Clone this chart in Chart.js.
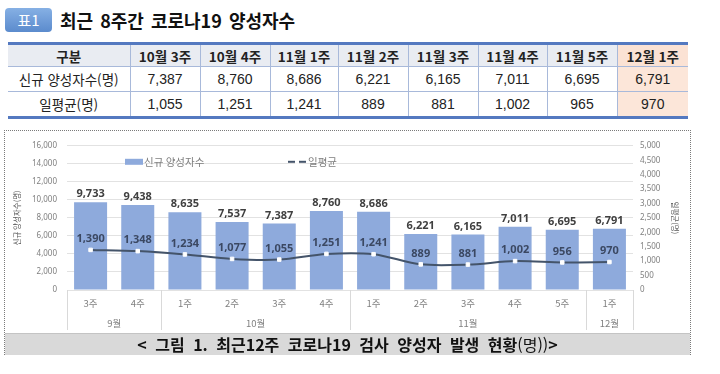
<!DOCTYPE html>
<html lang="ko">
<head>
<meta charset="utf-8">
<script src="https://cdn.jsdelivr.net/npm/chart.js"></script>
<style>
body{margin:0;width:720px;height:374px;background:#fff;position:relative;overflow:hidden;font-family:"Liberation Sans","Noto Sans CJK KR",sans-serif;}
.badge{position:absolute;left:5px;top:8px;width:47px;height:24px;border-radius:4px;background:linear-gradient(#86b0e4,#5b8bcd);color:#fff;font:15px "Noto Sans CJK KR";line-height:24px;text-align:center;}
.title{position:absolute;left:60px;top:6px;font:bold 18px "Noto Sans CJK KR";line-height:28px;color:#111;word-spacing:2px;}
table{position:absolute;left:8px;top:42px;width:680px;border-collapse:collapse;table-layout:fixed;}
td{border:1px solid #a8b9da;text-align:center;font-size:14px;color:#222;padding:0;height:24px;line-height:16px;}
tr:first-child td{border-top:3px solid #5479c0;background:#e9ecf2;font-weight:bold;font-family:"Noto Sans CJK KR";font-size:13.5px;height:21px;}
tr:last-child td{border-bottom:3px solid #5479c0;}
td:first-child{border-left:none;font-family:"Noto Sans CJK KR";font-size:13.5px;}
td:last-child{border-right:none;background:#fce6d9;}
tr:first-child td:last-child{background:#fbe2d4;}
.box{position:absolute;left:4px;top:130px;width:687px;height:225px;box-sizing:border-box;border:1px dotted #7a7a7a;}
.plot{position:absolute;left:0;top:0;width:685px;height:202px;}
.caption{position:absolute;left:0;top:202px;width:685px;height:22px;background:#d9d9d9;border-top:1px solid #c4c4c4;box-sizing:border-box;text-align:center;font:bold 16px "Noto Sans CJK KR";line-height:21px;color:#111;word-spacing:4px;}
.caption span{font-weight:normal;}
</style>
</head>
<body>
<div class="badge">표1</div>
<div class="title">최근 8주간 코로나19 양성자수</div>
<table id="tbl"></table>
<div class="box">
  <div class="plot"><canvas id="myChart"></canvas></div>
  <div class="caption">&lt; 그림 1. 최근12주 코로나19 검사 양성자 발생 현황<span>(명))</span>&gt;</div>
</div>
<script>
// 표 데이터 (최근 8주)
const tblWeeks = ['10월 3주','10월 4주','11월 1주','11월 2주','11월 3주','11월 4주','11월 5주','12월 1주'];
const tblCases = [7387, 8760, 8686, 6221, 6165, 7011, 6695, 6791];
const tblAvg = [1055, 1251, 1241, 889, 881, 1002, 965, 970];

// 그래프 데이터 (최근 12주)
const weeks = ['3주','4주','1주','2주','3주','4주','1주','2주','3주','4주','5주','1주'];
const months = ['9월','9월','10월','10월','10월','10월','11월','11월','11월','11월','11월','12월'];
const newCases = [9733, 9438, 8635, 7537, 7387, 8760, 8686, 6221, 6165, 7011, 6695, 6791];
const dailyAvg = [1390, 1348, 1234, 1077, 1055, 1251, 1241, 889, 881, 1002, 956, 970];
const leftMax = 16000, leftStep = 2000;
const rightMax = 5000, rightStep = 500;

const barColor = '#8eaadc';
const lineColor = '#44546a';
const fmt = v => Number(v).toLocaleString('en-US');

// 표 그리기
const colW = [122, 70, 70, 68, 70, 70, 69, 70, 71];
let html = '<colgroup>' + colW.map(w => `<col style="width:${w}px">`).join('') + '</colgroup>';
html += '<tr><td>구분</td>' + tblWeeks.map(w => `<td>${w}</td>`).join('') + '</tr>';
html += '<tr><td>신규 양성자수(명)</td>' + tblCases.map(v => `<td>${fmt(v)}</td>`).join('') + '</tr>';
html += '<tr><td>일평균(명)</td>' + tblAvg.map(v => `<td>${fmt(v)}</td>`).join('') + '</tr>';
document.getElementById('tbl').innerHTML = html;

// 막대/선 위 값 표시
const valueLabels = {
  id: 'valueLabels',
  afterDatasetsDraw(chart) {
    const ctx = chart.ctx;
    ctx.save();
    ctx.font = 'bold 11px "Noto Sans"';
    ctx.textAlign = 'center';
    ctx.textBaseline = 'middle';
    ctx.fillStyle = '#404040';
    chart.getDatasetMeta(0).data.forEach((bar, i) => {
      ctx.fillText(fmt(newCases[i]), bar.x, bar.y - 8);
    });
    ctx.fillStyle = '#3b4862';
    chart.getDatasetMeta(1).data.forEach((pt, i) => {
      ctx.fillText(fmt(dailyAvg[i]), pt.x, pt.y - 11);
    });
    ctx.restore();
  }
};

// 월 구분 (2단 축)
const monthAxis = {
  id: 'monthAxis',
  afterDraw(chart) {
    const {ctx, chartArea, scales: {x}} = chart;
    const half = (x.getPixelForValue(1) - x.getPixelForValue(0)) / 2;
    const top = chartArea.bottom, bottom = chartArea.bottom + 40;
    ctx.save();
    ctx.strokeStyle = '#d9d9d9';
    ctx.lineWidth = 1;
    ctx.fillStyle = '#808080';
    ctx.font = '9.5px "Noto Sans CJK KR"';
    ctx.textAlign = 'center';
    ctx.textBaseline = 'middle';
    const vline = px => {
      const xx = Math.round(px) + 0.5;
      ctx.beginPath(); ctx.moveTo(xx, top); ctx.lineTo(xx, bottom); ctx.stroke();
    };
    let start = 0;
    for (let i = 1; i <= months.length; i++) {
      if (i === months.length || months[i] !== months[start]) {
        const x0 = x.getPixelForValue(start) - half;
        const x1 = x.getPixelForValue(i - 1) + half;
        vline(x0);
        if (i === months.length) vline(x1);
        ctx.fillText(months[start], (x0 + x1) / 2, chartArea.bottom + 33);
        start = i;
      }
    }
    ctx.restore();
  }
};

// 범례 (그림 영역 안쪽 위)
const topLegend = {
  id: 'topLegend',
  afterDraw(chart) {
    const {ctx, chartArea} = chart;
    const ds = chart.data.datasets;
    const y = chartArea.top + 16;
    ctx.save();
    ctx.font = '10.5px "Noto Sans CJK KR"';
    ctx.textBaseline = 'middle';
    ctx.textAlign = 'left';
    let x = chartArea.left + 58;
    ctx.fillStyle = barColor;
    ctx.fillRect(x, y - 3, 18, 6);
    ctx.fillStyle = '#7f7f7f';
    ctx.fillText(ds[0].label, x + 19, y);
    x = chartArea.left + 221;
    ctx.strokeStyle = lineColor;
    ctx.lineWidth = 2;
    ctx.beginPath(); ctx.moveTo(x, y); ctx.lineTo(x + 18, y); ctx.stroke();
    ctx.fillStyle = '#fff';
    ctx.fillRect(x + 7, y - 2, 4, 4);
    ctx.fillStyle = '#7f7f7f';
    ctx.fillText(ds[1].label, x + 20, y);
    ctx.restore();
  }
};

const tickFont = {family: 'Noto Sans', size: 8};

new Chart(document.getElementById('myChart'), {
  type: 'bar',
  data: {
    labels: weeks,
    datasets: [{
      type: 'bar',
      label: '신규 양성자수',
      data: newCases,
      backgroundColor: barColor,
      categoryPercentage: 1,
      barPercentage: 0.7,
      yAxisID: 'y',
      order: 1
    }, {
      type: 'line',
      label: '일평균',
      data: dailyAvg,
      borderColor: lineColor,
      borderWidth: 2,
      tension: 0.3,
      pointStyle: 'rect',
      pointRadius: 2.5,
      pointBackgroundColor: '#fff',
      pointBorderColor: '#fff',
      pointBorderWidth: 1,
      yAxisID: 'y1',
      order: 0
    }]
  },
  options: {
    responsive: true,
    maintainAspectRatio: false,
    animation: false,
    devicePixelRatio: 1,
    layout: {padding: {top: 7, left: 0, right: 0, bottom: 0}},
    plugins: {
      legend: {display: false},
      tooltip: {enabled: false}
    },
    scales: {
      x: {
        grid: {display: false, drawTicks: false},
        border: {display: false},
        ticks: {color: '#808080', font: {family: 'Noto Sans CJK KR', size: 9.5}, padding: 8, maxRotation: 0, autoSkip: false},
        afterFit(s) { s.height = 43; }
      },
      y: {
        position: 'left',
        min: 0,
        max: leftMax,
        ticks: {stepSize: leftStep, color: '#808080', font: tickFont, padding: 10, callback: v => fmt(v)},
        grid: {color: '#e2e2e2', drawTicks: false},
        border: {display: false},
        title: {display: true, text: '신규 양성자수(명)', color: '#595959', font: {family: 'Noto Sans CJK KR', size: 7.5}, padding: {top: 8, bottom: 0}},
        afterFit(s) { s.width = 62; }
      },
      y1: {
        position: 'right',
        min: 0,
        max: rightMax,
        ticks: {stepSize: rightStep, color: '#808080', font: tickFont, padding: 7, callback: v => fmt(v)},
        grid: {drawOnChartArea: false, drawTicks: false},
        border: {display: false},
        title: {display: true, text: '일평균(명)', color: '#595959', font: {family: 'Noto Sans CJK KR', size: 7.5}, padding: {top: 11, bottom: 0}},
        afterFit(s) { s.width = 57; }
      }
    }
  },
  plugins: [valueLabels, monthAxis, topLegend]
});
</script>
</body>
</html>
